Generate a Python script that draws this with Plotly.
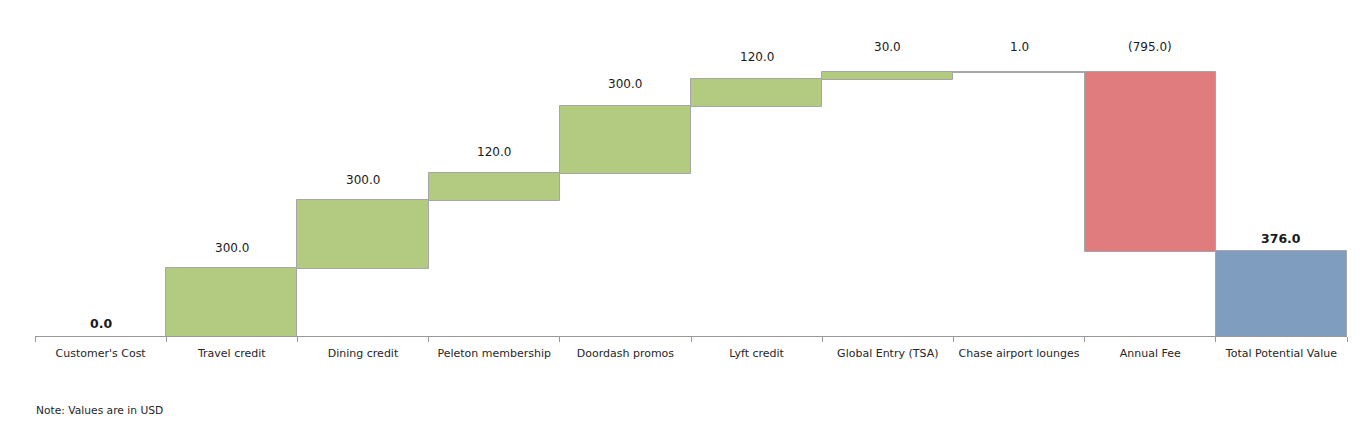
import plotly.graph_objects as go

categories = ["Customer's Cost", "Travel credit", "Dining credit", "Peleton membership",
              "Doordash promos", "Lyft credit", "Global Entry (TSA)", "Chase airport lounges",
              "Annual Fee", "Total Potential Value"]
values = [0, 300, 300, 120, 300, 120, 30, 1, -795, 376]
measures = ["absolute"] + ["relative"] * 8 + ["total"]
labels = ["<b>0.0</b>", "300.0", "300.0", "120.0", "300.0", "120.0", "30.0", "1.0",
          "(795.0)", "<b>376.0</b>"]

# label heights from the running totals
tops = []
run = 0
for v, m in zip(values, measures):
    if m == "absolute":
        run = v
        tops.append(v)
    elif m == "total":
        tops.append(run)
    else:
        start = run
        run += v
        tops.append(max(start, run))

FONT = "DejaVu Sans"
edge = dict(color="#A6A6A6", width=1)
label_shift = [13, 20, 21, 22, 22, 22, 25, 25, 25, 13]

fig = go.Figure()
fig.add_trace(go.Waterfall(
    x=categories, y=values, measure=measures,
    increasing=dict(marker=dict(color="#B3CB80", line=edge)),
    decreasing=dict(marker=dict(color="#E07B7E", line=edge)),
    totals=dict(marker=dict(color="#7F9EBF", line=edge)),
    connector=dict(line=dict(color="#A6A6A6", width=1)),
    hoverinfo="skip",
))

annots = []
for c, t, lab, s, m in zip(categories, tops, labels, label_shift, measures):
    size = 12.5 if m != "relative" else 12
    annots.append(dict(x=c, y=t, text=lab, xref="x", yref="y", showarrow=False,
                       yanchor="middle", yshift=s,
                       font=dict(family=FONT, size=size, color="#1a1a1a")))
annots.append(dict(text="Note: Values are in USD", xref="paper", yref="paper",
                   x=-0.001, y=-0.255, xanchor="left", yanchor="middle", showarrow=False,
                   font=dict(family=FONT, size=10.7, color="#262626")))

fig.update_layout(
    width=1360, height=421,
    margin=dict(l=35, r=13, t=43, b=85),
    paper_bgcolor="white", plot_bgcolor="white",
    showlegend=False, waterfallgap=0,
    font=dict(family=FONT, size=11, color="#262626"),
    xaxis=dict(showline=True, linecolor="#999999", linewidth=1,
               ticks="outside", tickson="boundaries", ticklen=5, tickcolor="#999999",
               ticklabelstandoff=7,
               tickfont=dict(family=FONT, size=11, color="#262626"),
               showgrid=False, zeroline=False),
    yaxis=dict(range=[0, 1300], visible=False, showgrid=False, zeroline=False),
    annotations=annots,
)
fig.write_html("out.html", config={"displayModeBar": False},
               post_script="document.body.style.margin='0';")
